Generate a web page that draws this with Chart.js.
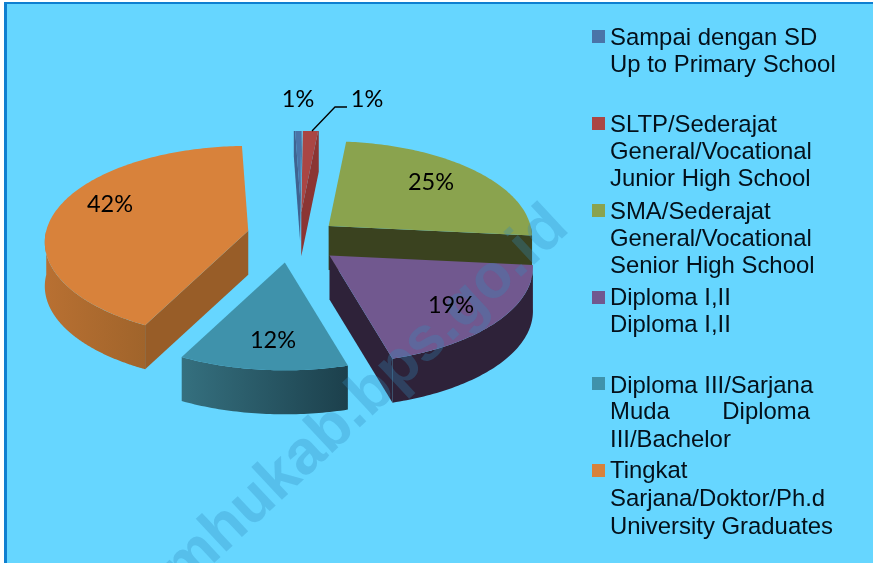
<!DOCTYPE html>
<html><head><meta charset="utf-8">
<style>html,body{margin:0;padding:0;background:#fff}canvas{display:block}</style>
<script src="https://cdn.jsdelivr.net/npm/chart.js@4"></script>
</head><body><canvas id="c" width="873" height="563"></canvas>
<script>
const categories = ["Sampai dengan SD / Up to Primary School","SLTP/Sederajat / Junior High School","SMA/Sederajat / Senior High School","Diploma I,II","Diploma III/Sarjana Muda / Bachelor","Tingkat Sarjana/Doktor/Ph.d / University Graduates"];
const values = [0.7,1.4,25,19,12,41.9];
const legendLines = [
  ["Sampai dengan SD","Up to Primary School"],
  ["SLTP/Sederajat","General/Vocational","Junior High School"],
  ["SMA/Sederajat","General/Vocational","Senior High School"],
  ["Diploma I,II","Diploma I,II"],
  ["Diploma III/Sarjana","Muda|Diploma","III/Bachelor"],
  ["Tingkat","Sarjana/Doktor/Ph.d","University Graduates"]
];
const watermark = "mhukab.bps.go.id";

// styling and layout
const topColors  = ["#4A74A8","#AA4644","#8AA34E","#71588F","#3F92AB","#D8823B"];
const wallColors = ["#3F6390","#8B3533","#3A421F","#2E2239","#2C5F6E","#985D28"];
const rimColors  = [["#3F6390","#3F6390"],["#8B3533","#8B3533"],["#3A421F","#3A421F"],["#2E2239","#2E2239"],["#35707F","#1C404C"],["#B87032","#A0642B"]];
const explode = [82,52,42,50,50,48];
const drawOrder = [0,1,2,5,4,3];
const labelAt = [[298,99],[367,99],[431,182],[451,305],[273,340],[110,204]];
const legendSwatchY = [30,117,204,291,377,464];
const legendBaselines = [[45,72],[132,159,186],[219,246,273],[305,332],[393,419,447],[478,506,534]];
const CX=294, CY=238, RADIUS=202, RY_RATIO=0.47, PERSP=0.119, DEPTH=44, EXPL_SQUASH=0.5, EXPL_TURN=5*Math.PI/180, CLIP_Y=131;

function project(a, th){
  const u=Math.sin(th), v=-Math.cos(th), s=1/(1-PERSP*v);
  return {x:a.x+a.R*u*s, y:a.y+a.R*RY_RATIO*v*s};
}
const pie3d = {
  id:'pie3d',
  beforeDraw(chart){
    const c=chart.ctx;
    c.save();
    c.fillStyle='#fff'; c.fillRect(0,0,873,563);
    c.fillStyle='#0F7FD0'; c.fillRect(4,2,869,561);
    c.fillStyle='#66D6FF'; c.fillRect(7,4,866,559);
    c.restore();
  },
  beforeDatasetsDraw(chart){
    const c=chart.ctx, arcs=chart.getDatasetMeta(0).data;
    c.save();
    c.beginPath(); c.rect(0,CLIP_Y,873,563-CLIP_Y); c.clip();
    drawOrder.forEach(i=>{
      const el=arcs[i];
      const t0=el.startAngle+Math.PI/2, t1=el.endAngle+Math.PI/2, m=(t0+t1)/2+EXPL_TURN;
      const off=el.options.offset;
      const a={x:el.x+off*Math.sin(m), y:el.y-off*Math.cos(m)*EXPL_SQUASH, R:el.outerRadius};
      const N=Math.max(4,Math.ceil((t1-t0)*60));
      // front rim
      const lo=Math.max(t0,Math.PI/2), hi=Math.min(t1,1.5*Math.PI);
      if(hi>lo){
        const pts=[];
        for(let k=0;k<=N;k++) pts.push(project(a,lo+(hi-lo)*k/N));
        const g=c.createLinearGradient(pts[N].x<pts[0].x?pts[N].x:pts[0].x,0,pts[N].x<pts[0].x?pts[0].x:pts[N].x,0);
        g.addColorStop(0,rimColors[i][0]); g.addColorStop(1,rimColors[i][1]);
        c.fillStyle=g; c.beginPath();
        pts.forEach((p,k)=>k?c.lineTo(p.x,p.y):c.moveTo(p.x,p.y));
        for(let k=N;k>=0;k--) c.lineTo(pts[k].x,pts[k].y+DEPTH);
        c.closePath(); c.fill();
      }
      // end wall (the start wall only if it faces the viewer)
      [[t0,-Math.sin(t0)],[t1,Math.sin(t1)]].forEach(([th,v])=>{
        if(v<=0) return;
        const p=project(a,th);
        c.fillStyle=wallColors[i]; c.beginPath();
        c.moveTo(a.x,a.y); c.lineTo(p.x,p.y); c.lineTo(p.x,p.y+DEPTH); c.lineTo(a.x,a.y+DEPTH);
        c.closePath(); c.fill();
      });
      // top face
      c.fillStyle=el.options.backgroundColor; c.beginPath(); c.moveTo(a.x,a.y);
      for(let k=0;k<=N;k++){const p=project(a,t0+(t1-t0)*k/N); c.lineTo(p.x,p.y);}
      c.closePath(); c.fill();
    });
    c.restore();
    return false;
  },
  afterDraw(chart){
    const c=chart.ctx;
    c.save();
    // watermark
    c.save();
    c.translate(183,592); c.rotate(-43*Math.PI/180);
    c.fillStyle='rgba(50,140,190,0.3)'; c.font='bold 62px "Liberation Sans"';
    c.fillText(watermark,0,0);
    c.restore();
    // leader line
    c.strokeStyle='#000'; c.lineWidth=1.3; c.beginPath();
    c.moveTo(312,131); c.lineTo(335,107); c.lineTo(347,107); c.stroke();
    // percent labels
    const total=values.reduce((s,v)=>s+v,0);
    c.fillStyle='#000'; c.font='23.5px Lato'; c.textAlign='center'; c.textBaseline='middle';
    values.forEach((v,i)=>c.fillText(Math.round(v/total*100)+'%',labelAt[i][0],labelAt[i][1]));
    // legend
    c.textAlign='left'; c.textBaseline='alphabetic'; c.font='23.9px "Liberation Sans"';
    legendLines.forEach((lines,i)=>{
      c.fillStyle=topColors[i]; c.fillRect(592,legendSwatchY[i],13,13);
      c.fillStyle='#04101a';
      lines.forEach((ln,j)=>{
        const y=legendBaselines[i][j];
        if(ln.includes('|')){
          const [l,r]=ln.split('|');
          c.fillText(l,610,y); c.textAlign='right'; c.fillText(r,810,y); c.textAlign='left';
        } else c.fillText(ln,610,y);
      });
    });
    c.restore();
  }
};
new Chart(document.getElementById('c'),{
  type:'pie',
  data:{labels:categories,datasets:[{data:values,backgroundColor:topColors,offset:explode,borderWidth:0}]},
  options:{
    responsive:false,animation:false,rotation:-2,radius:RADIUS,
    layout:{padding:{left:0,top:0,right:873-2*CX,bottom:563-2*CY}},
    plugins:{legend:{display:false},tooltip:{enabled:false}}
  },
  plugins:[pie3d]
});
</script></body></html>
